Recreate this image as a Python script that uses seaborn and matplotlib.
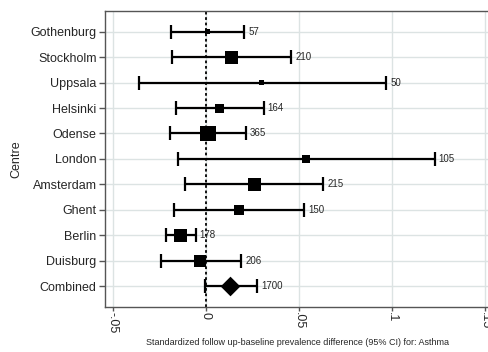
import numpy as np
import pandas as pd
import matplotlib
matplotlib.use("Agg")
import matplotlib.pyplot as plt
import seaborn as sns

# valori
centres = ["Gothenburg", "Stockholm", "Uppsala", "Helsinki", "Odense", "London",
           "Amsterdam", "Ghent", "Berlin", "Duisburg", "Combined"]
estimate = [0.001, 0.014, 0.030, 0.0075, 0.001, 0.054, 0.026, 0.018, -0.0135, -0.003, 0.013]
ci_low = [-0.019, -0.018, -0.036, -0.016, -0.0195, -0.015, -0.011, -0.017, -0.0215, -0.024, -0.0005]
ci_high = [0.0205, 0.046, 0.097, 0.031, 0.0215, 0.123, 0.063, 0.053, -0.0055, 0.019, 0.0275]
n_subjects = [57, 210, 50, 164, 365, 105, 215, 150, 178, 206, 1700]
weights = [2.1, 14.1, 2.1, 6.7, 21.3, 5.3, 14.1, 8.3, 14.1, 12.0]   # peso % stimato (dimensione quadrati)
xticks = [-0.05, 0, 0.05, 0.1, 0.15]
xticklabels = ["-.05", "0", ".05", ".1", ".15"]

df = pd.DataFrame({"centre": centres, "est": estimate, "lo": ci_low, "hi": ci_high, "n": n_subjects})
df["pos"] = np.arange(len(df))
studi = df.iloc[:-1].copy()
studi["w"] = weights
comb = df.iloc[-1:]

sns.set_style("white")
plt.rcParams["font.family"] = ["Liberation Sans", "DejaVu Sans"]

fig = plt.figure(figsize=(4.88, 3.52), dpi=100)
ax = fig.add_axes([0.215, 0.128, 0.79, 0.841])

for x in xticks:
    ax.axvline(x, color="#dce3e3", lw=1, zorder=0)
for y in df["pos"]:
    ax.axhline(y, color="#dce3e3", lw=1, zorder=0)
ax.axvline(0, color="black", lw=1.3, ls=(0, (1.5, 1.5)), zorder=1)

ax.errorbar(df["est"], df["pos"],
            xerr=[df["est"] - df["lo"], df["hi"] - df["est"]],
            fmt="none", ecolor="black", elinewidth=1.6, capsize=5, capthick=1.6, zorder=2)

sns.scatterplot(data=studi, x="est", y="pos", size="w",
                sizes=(min(weights) * 6.2, max(weights) * 6.2),
                marker="s", color="black", edgecolor="black", linewidth=0,
                legend=False, ax=ax, zorder=3)
sns.scatterplot(data=comb, x="est", y="pos", marker="D", s=100, color="black",
                edgecolor="black", linewidth=0, legend=False, ax=ax, zorder=3)

for _, r in df.iterrows():
    ax.text(r["hi"] + 0.0022, r["pos"], str(r["n"]), va="center", ha="left", fontsize=7)

ax.set_xlim(-0.0543, 0.153)
ax.set_ylim(10.82, -0.82)
ax.set_yticks(df["pos"])
ax.set_yticklabels(centres, fontsize=9)
ax.set_xticks(xticks)
ax.set_xticklabels(xticklabels, fontsize=9, rotation=-90)
ax.tick_params(axis="y", direction="out", length=4, width=1, color="#555555", left=True, pad=2)
ax.tick_params(axis="x", direction="out", length=3, width=1, color="#555555", bottom=True, pad=1)
ax.set_ylabel("Centre", fontsize=9, labelpad=6)
ax.set_xlabel("Standardized follow up-baseline prevalence difference (95% CI) for: Asthma",
              fontsize=6.5, labelpad=3)

for s in ["left", "bottom", "top"]:
    ax.spines[s].set_color("#555555")
    ax.spines[s].set_linewidth(1)
ax.spines["right"].set_visible(False)

fig.savefig("out.png", dpi=100)
